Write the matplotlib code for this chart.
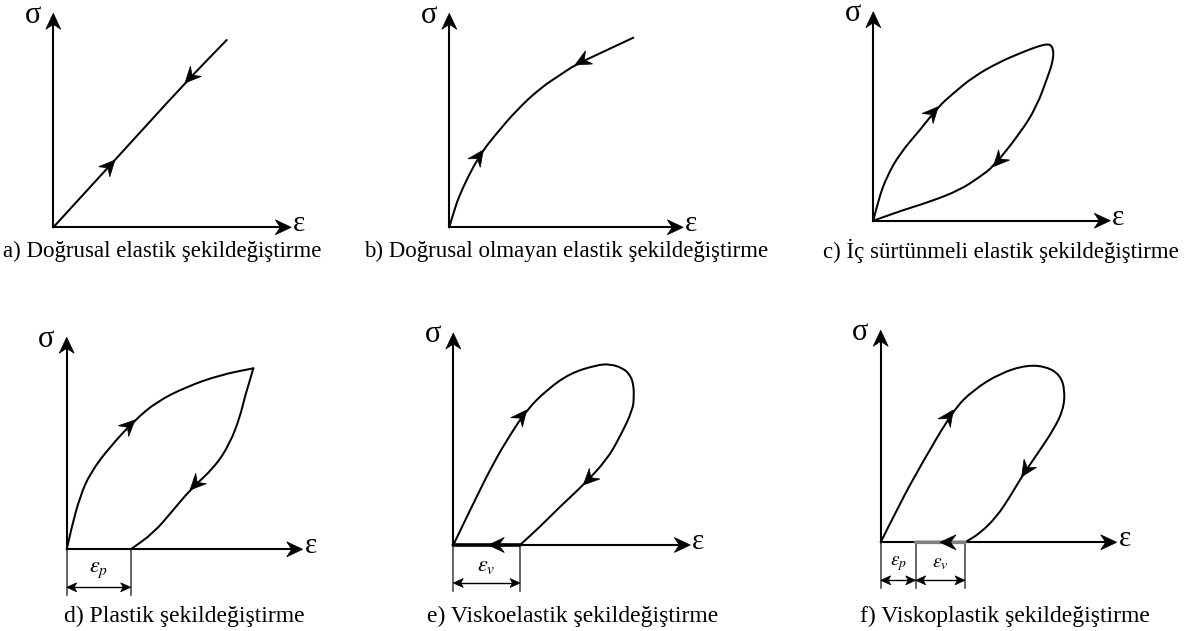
import numpy as np
import matplotlib.pyplot as plt
from matplotlib.patches import Polygon, PathPatch
from matplotlib.path import Path

plt.rcParams['font.family'] = ['Liberation Serif', 'DejaVu Serif']
plt.rcParams['mathtext.fontset'] = 'stix'

W, H = 1194, 631

# (strain, stress) pairs, measured from the corner of each diagram
a_load = [(0, 0), (61.7, 67.3), (131.7, 144.3), (173.4, 187.3)]

b_load = [(0, 0), (5.7, 20.6), (14, 40.6), (24, 60.6), (34, 77.3), (47.4, 94),
          (67.4, 117.3), (90.7, 139), (110.7, 152.3), (125.7, 162.3),
          (150.7, 174), (184, 189.6)]

c_loop = [(0, 0), (5, 20.7), (13.4, 44), (26.7, 67.4), (46.7, 90.7), (65, 114),
          (80, 127.4), (100, 144), (126.7, 159), (146.7, 167.4), (156.7, 171.4),
          (166.7, 175), (175, 176.7), (178.4, 174.7), (180, 170), (180, 164),
          (178.4, 155.7), (175, 145.7), (163.4, 114), (146.7, 87.4), (120, 54),
          (106.7, 44), (86.7, 30.7), (56.7, 19), (30, 10.7), (0, 0)]

d_load = [(0, 0), (5, 22.6), (13.3, 52.6), (23.3, 76), (43.3, 102.6), (68.3, 129.3),
          (90, 147.6), (120, 162.6), (153.3, 174.3), (186.6, 181)]
d_unload = [(186.6, 181), (183.3, 169.3), (178, 152), (173.3, 132.6), (163.3, 106),
            (148.3, 82.6), (123.3, 59.3), (106.6, 39.3), (86.6, 16), (64, 0)]

e_loop = [(0, 0), (20, 41.7), (40, 81.7), (56.7, 110), (73.4, 135), (93.4, 155),
          (116.7, 171.7), (143.4, 180), (156.7, 181), (170, 176.7), (176.7, 170),
          (180, 161.7), (180.7, 148.3), (179.4, 135), (166.7, 108.3), (153.4, 85),
          (130, 60), (106.7, 38.3), (86.7, 18.3), (66.7, 0)]
e_back = [(66.7, 0), (35, 0), (0, 0)]

f_loop = [(0, 0), (19.3, 39), (39.3, 75.6), (72.6, 132.3), (92.6, 152.3),
          (119.3, 169), (146, 177.3), (166, 175.6), (179.3, 167.3), (184.3, 152.3),
          (182.6, 132.3), (172.6, 112.3), (159.3, 92.3), (141, 65.6), (129.3, 45.6),
          (116, 25.6), (99.3, 9), (84.3, 0)]
f_back = [(84.3, 0), (59.3, 0), (35, 0)]

eps_d = [0, 64]
eps_e = [0, 66.7]
eps_f = [0, 35, 84.3]

captions = ['a) Doğrusal elastik şekildeğiştirme',
            'b) Doğrusal olmayan elastik şekildeğiştirme',
            'c) İç sürtünmeli elastik şekildeğiştirme',
            'd) Plastik şekildeğiştirme',
            'e) Viskoelastik şekildeğiştirme',
            'f) Viskoplastik şekildeğiştirme']

fig = plt.figure(figsize=(W / 100, H / 100), dpi=100)


def head(ax, x, y, dx, dy, length=16, half=7.5, notch=5.5, color='black'):
    n = np.hypot(dx, dy)
    ux, uy = dx / n, dy / n
    px, py = -uy, ux
    pts = [(x, y),
           (x - length * ux + half * px, y - length * uy + half * py),
           (x - (length - notch) * ux, y - (length - notch) * uy),
           (x - length * ux - half * px, y - length * uy - half * py)]
    ax.add_patch(Polygon(pts, closed=True, fc=color, ec=color, lw=0.5,
                         zorder=5, clip_on=False))


def panel(ox, oy, xlen, ylen):
    # one data unit is one pixel, origin at (ox, oy) in image pixels
    ax = fig.add_axes([(ox - 70) / W, 1 - (oy + 80) / H, 360 / W, 320 / H])
    ax.set_xlim(-70, 290)
    ax.set_ylim(-80, 240)
    ax.axis('off')
    ax.plot([0, xlen - 8], [0, 0], color='black', lw=1.5, clip_on=False)
    ax.plot([0, 0], [0, ylen - 8], color='black', lw=1.5, clip_on=False)
    head(ax, xlen, 0, 1, 0, length=16, half=7.5, notch=5)
    head(ax, 0, ylen, 0, 1, length=16, half=7.5, notch=5)
    ax.text(-12, ylen - 2, 'σ', ha='right', va='center', fontsize=22)
    ax.text(xlen + 2, 3, 'ε', ha='left', va='center', fontsize=21)
    return ax


def curve(ax, pts, arrows=(), color='black', lw=1.45):
    pts = np.asarray(pts, dtype=float)
    # quadratic bezier through the midpoints keeps the sketch smooth
    verts = [pts[0]]
    codes = [Path.MOVETO]
    for i in range(1, len(pts) - 1):
        verts += [pts[i], (pts[i] + pts[i + 1]) / 2]
        codes += [Path.CURVE3, Path.CURVE3]
    verts.append(pts[-1])
    codes.append(Path.LINETO)
    ax.add_patch(PathPatch(Path(verts, codes), fc='none', ec=color, lw=lw,
                           capstyle='round', joinstyle='round', zorder=3,
                           clip_on=False))
    for i in arrows:
        d = pts[i + 1] - pts[i - 1]
        head(ax, pts[i, 0], pts[i, 1], d[0], d[1])


def dims(ax, xs, labels, size=16):
    for x in xs:
        ax.plot([x, x], [0, -46], color='#3a3a3a', lw=1.1, clip_on=False)
    for x1, x2, lab in zip(xs[:-1], xs[1:], labels):
        ax.plot([x1 + 3, x2 - 3], [-38, -38], color='black', lw=1.0)
        head(ax, x2, -38, 1, 0, length=10, half=4.5, notch=2.5)
        head(ax, x1, -38, -1, 0, length=10, half=4.5, notch=2.5)
        ax.text((x1 + x2) / 2, -21, lab, ha='center', va='center', fontsize=size)


ax = panel(53.3, 227.3, 238, 214)
curve(ax, a_load, arrows=[1])
head(ax, a_load[2][0], a_load[2][1], -1, -187.3 / 173.4)

ax = panel(449.3, 227.3, 234, 214)
curve(ax, b_load, arrows=[4])
head(ax, b_load[9][0], b_load[9][1], b_load[8][0] - b_load[10][0],
     b_load[8][1] - b_load[10][1])

ax = panel(873.3, 220.7, 237, 209)
curve(ax, c_loop, arrows=[5, 20])

ax = panel(66.7, 549.3, 236, 212)
curve(ax, d_load, arrows=[5])
curve(ax, d_unload, arrows=[6])
dims(ax, eps_d, [r'$\varepsilon_p$'])

ax = panel(453.3, 545, 237, 212)
curve(ax, e_loop, arrows=[4, 16])
curve(ax, e_back, arrows=[1], lw=2.6)
dims(ax, eps_e, [r'$\varepsilon_v$'])

ax = panel(880.7, 542.3, 236, 212)
curve(ax, f_loop, arrows=[3, 13])
curve(ax, f_back, arrows=[1], color='#808080', lw=2.6)
dims(ax, eps_f, [r'$\varepsilon_p$', r'$\varepsilon_v$'], size=14)

cap_pos = [(162, 251), (566, 251), (1001, 251), (184, 616), (573, 616), (1005, 616)]
cap_size = [16.5, 16.5, 16.5, 17, 17, 17]
for (cx, cy), txt, fs in zip(cap_pos, captions, cap_size):
    fig.text(cx / W, 1 - cy / H, txt, ha='center', va='center', fontsize=fs)

fig.savefig('out.png', dpi=100)
